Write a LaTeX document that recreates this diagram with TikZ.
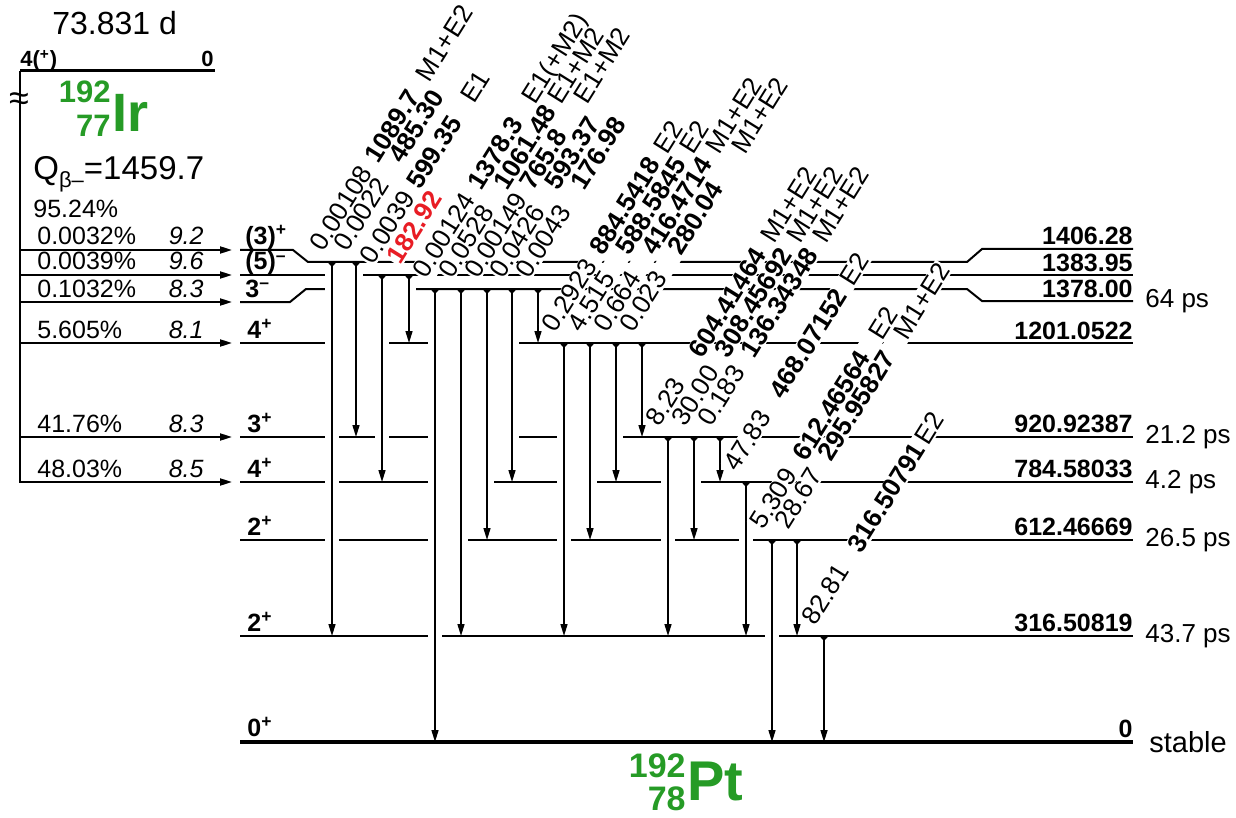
\documentclass[tikz,border=0pt]{standalone}
\usepackage{fontspec}
\setmainfont{Liberation Sans}
\usetikzlibrary{arrows.meta}

\definecolor{isogreen}{RGB}{38,155,38}
\definecolor{linered}{RGB}{232,28,36}

\begin{document}
\begin{tikzpicture}[x=0.5pt,y=-0.5pt,font=\fontsize{12.5}{15}\selectfont]
    \tikzset{
        level/.style={line width=1pt},
        ground/.style={line width=2pt},
        feed/.style={-{Triangle[width=3.5pt,length=6pt]},line width=1pt},
        gamma/.style={{Triangle[reversed,width=4.5pt,length=2.5pt]}-{Triangle[width=3.5pt,length=6pt]},
            line width=0.75pt},
        halo/.style={white,line width=7pt},
        glabel/.style={rotate=58,anchor=base west,fill=white,inner sep=0.5pt,
            font=\fontsize{13}{15}\selectfont},
        spin/.style={anchor=base west,inner sep=0pt,font=\fontsize{12.5}{15}\selectfont\bfseries},
        elevel/.style={anchor=base east,inner sep=0pt,font=\fontsize{12.5}{15}\selectfont\bfseries},
        hlife/.style={anchor=west,inner sep=0pt,font=\fontsize{13}{15}\selectfont},
        branch/.style={anchor=base west,inner sep=0pt},
        logft/.style={anchor=base east,inner sep=0pt,font=\fontsize{12.5}{15}\selectfont\itshape},
        iso/.style={inner sep=0pt,text=isogreen}
    }
    \useasboundingbox (0,0) rectangle (1236,818);

    % parent 192Ir
    \draw[line width=1.5pt] (20,71) -- (215,71);
    \draw[line width=1pt] (20,71) -- (20,483);
    \node[anchor=base west,inner sep=0pt,font=\fontsize{16}{18}\selectfont] (thalf) at (52,35) {73.831 d};
    \node[anchor=base west,inner sep=0pt,font=\fontsize{11}{13}\selectfont\bfseries] (pspin) at (20,67)
        {4(\textsuperscript{+})};
    \node[anchor=base east,inner sep=0pt,font=\fontsize{11}{13}\selectfont\bfseries] (pen) at (214,67) {0};
    \node[inner sep=0pt,font=\fontsize{18}{20}\selectfont] (brk) at (19,102) {≈};
    \node[iso,anchor=base west,font=\fontsize{27}{29}\selectfont\bfseries] (ir) at (112,132) {Ir};
    \node[iso,anchor=base east,font=\fontsize{15.5}{17}\selectfont\bfseries] (irA) at (111,103) {192};
    \node[iso,anchor=base east,font=\fontsize{15.5}{17}\selectfont\bfseries] (irZ) at (111,137) {77};
    \node[anchor=base west,inner sep=0pt,font=\fontsize{16.5}{18}\selectfont] (qval) at (33,180)
        {Q\raisebox{-0.45ex}{\fontsize{11}{12}\selectfont β–}=1459.7};
    \node[branch] (btot) at (33,218) {95.24\%};

    % beta feeding
    \foreach \y/\b/\ft in {250/0.0032\%/9.2, 275/0.0039\%/9.6, 302/0.1032\%/8.3,
                           343/5.605\%/8.1, 437/41.76\%/8.3, 482/48.03\%/8.5}{
        \draw[feed] (20,\y) -- (232,\y);
        \node[branch] (b\y) at (37,\y-5) {\b};
        \node[logft] (f\y) at (204,\y-5) {\ft};
    }

    % levels of 192Pt
    \draw[level] (240,250) -- (293,250) -- (308,262) -- (967,262) -- (982,249) -- (1133,249);
    \draw[level] (240,275) -- (1133,275);
    \draw[level] (240,302) -- (290,302) -- (306,289) -- (967,289) -- (982,301) -- (1133,301);
    \foreach \y in {343,437,482,540,636}
        \draw[level] (240,\y) -- (1133,\y);
    \draw[ground] (240,742) -- (1133,742);

    % breaks in the levels between neighbouring lines
    \foreach \xa/\xb/\ya/\yb in {332/356/262/437, 356/382/275/437, 382/409/275/343,
            435/461/289/636, 461/487/289/540, 487/512/289/482,
            564/590/343/540, 590/616/343/482, 668/694/437/540}
        \fill[white] (\xa,\ya+3) rectangle (\xb,\yb-3);

    % gamma lines: x / from / to / intensity / energy / multipolarity / columns
    \foreach \x/\ya/\yb/\gi/\ge/\gm/\wa/\wb in {
            332/262/636/0.00108/1089.7/M1+E2/4.0em/3.7em,
            356/262/437/0.0022/485.30/{}/4.0em/3.7em,
            382/275/482/0.0039/599.35/E1/3.4em/3.9em,
            435/289/742/0.00124/1378.3/E1(+M2)/4.0em/3.9em,
            461/289/636/0.0528/1061.48/E1+M2/4.0em/3.9em,
            487/289/540/0.00149/765.8/E1+M2/4.0em/3.9em,
            512/289/482/0.0426/593.37/{}/4.0em/3.9em,
            538/289/343/0.0043/176.98/{}/4.0em/3.9em,
            564/343/636/0.2923/884.5418/E2/3.5em/4.6em,
            590/343/540/4.515/588.5845/E2/3.5em/4.6em,
            616/343/482/0.664/416.4714/M1+E2/3.5em/4.6em,
            642/343/437/0.023/280.04/M1+E2/3.5em/4.6em,
            668/437/636/8.23/604.41464/M1+E2/3.1em/5.2em,
            694/437/540/30.00/308.45692/M1+E2/3.1em/5.2em,
            720/437/482/0.183/136.34348/M1+E2/3.1em/5.2em,
            746/482/636/47.83/468.07152/E2/3.3em/5.1em,
            772/540/742/5.309/612.46564/E2/3.1em/5.5em,
            797/540/636/28.67/295.95827/M1+E2/3.1em/5.5em,
            824/636/742/82.81/316.50791/E2/3.3em/4.9em}{
        \draw[halo] (\x,\ya+3) -- (\x,\yb-3);
        \draw[gamma] (\x,\ya) -- (\x,\yb);
        \node[glabel] (g\x) at (\x-9,\ya-8)
            {\makebox[\wa][l]{\gi}\makebox[\wb][l]{\textbf{\ge}}\gm};
    }
    \draw[halo] (409,278) -- (409,340);
    \draw[gamma] (409,275) -- (409,343);
    \node[glabel,text=linered,font=\fontsize{13}{15}\selectfont\bfseries] (g409) at (400,267) {182.92};

    % spins
    \node[spin] (s1406) at (245,244) {(3)\textsuperscript{+}};
    \node[spin] (s1383) at (245,270) {(5)\textsuperscript{–}};
    \node[spin] (s1378) at (245,297) {3\textsuperscript{–}};
    \node[spin] (s1201) at (247,338) {4\textsuperscript{+}};
    \node[spin] (s920) at (247,432) {3\textsuperscript{+}};
    \node[spin] (s784) at (247,477) {4\textsuperscript{+}};
    \node[spin] (s612) at (247,535) {2\textsuperscript{+}};
    \node[spin] (s316) at (247,631) {2\textsuperscript{+}};
    \node[spin] (s0) at (247,736) {0\textsuperscript{+}};

    % level energies and half-lives
    \node[elevel] (e1406) at (1133,245) {1406.28};
    \node[elevel] (e1383) at (1133,271) {1383.95};
    \node[elevel] (e1378) at (1133,297) {1378.00};
    \node[elevel] (e1201) at (1133,339) {1201.0522};
    \node[elevel] (e920) at (1133,432) {920.92387};
    \node[elevel] (e784) at (1133,477) {784.58033};
    \node[elevel] (e612) at (1133,535) {612.46669};
    \node[elevel] (e316) at (1133,631) {316.50819};
    \node[elevel] (e0) at (1133,737) {0};
    \node[hlife] (t1378) at (1145,301) {64 ps};
    \node[hlife] (t920) at (1145,437) {21.2 ps};
    \node[hlife] (t784) at (1145,482) {4.2 ps};
    \node[hlife] (t612) at (1145,540) {26.5 ps};
    \node[hlife] (t316) at (1145,636) {43.7 ps};
    \node[hlife,font=\fontsize{14.5}{16}\selectfont] (t0) at (1149,742) {stable};

    % daughter 192Pt
    \node[iso,anchor=base west,font=\fontsize{28}{30}\selectfont\bfseries] (pt) at (687,800) {Pt};
    \node[iso,anchor=base east,font=\fontsize{17}{19}\selectfont\bfseries] (ptA) at (686,777) {192};
    \node[iso,anchor=base east,font=\fontsize{17}{19}\selectfont\bfseries] (ptZ) at (686,810) {78};
\end{tikzpicture}
\end{document}
